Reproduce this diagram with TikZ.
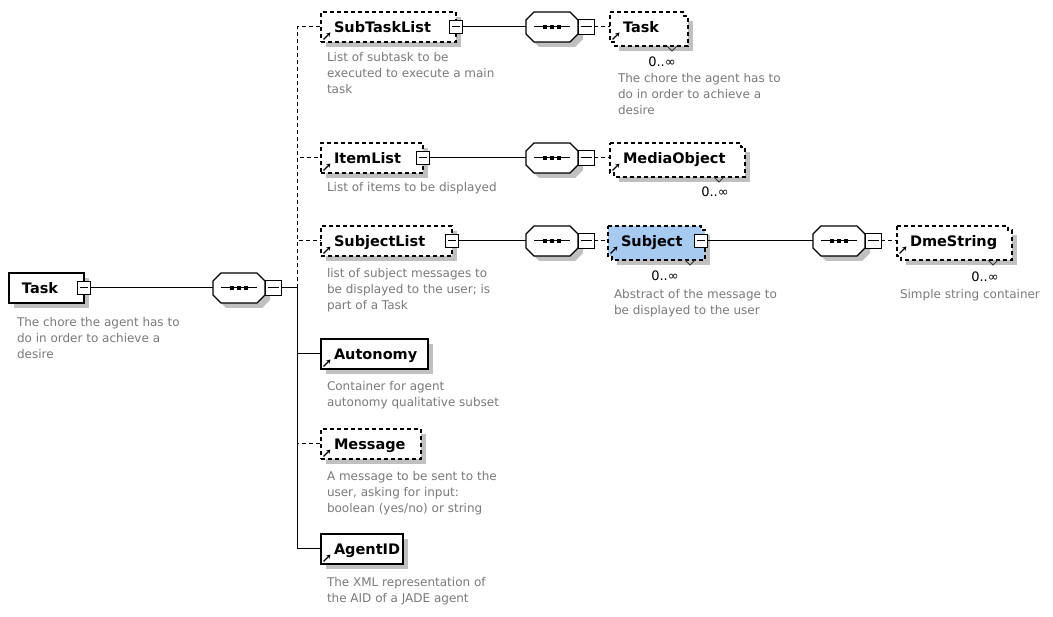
\documentclass[tikz,border=0pt]{standalone}
\usepackage{fontspec}
\setmainfont{DejaVu Sans}
\usetikzlibrary{calc,arrows.meta,shadows}

\definecolor{descgray}{HTML}{7A7A7A}
\definecolor{shadowgray}{HTML}{C0C0C0}
\definecolor{subjblue}{HTML}{A6CAF0}

% element caption: fixed-width box, name set after the reference-arrow gap
\newcommand\elemtext[2]{\makebox[#1][l]{\hspace{13pt}#2}}

\tikzset{
  conn/.style={line width=1pt},
  optline/.style={dash pattern=on 4pt off 3pt},
  shadowed/.style={general shadow={fill=shadowgray, shadow xshift=5pt, shadow yshift=-5pt}},
  namefont/.style={font=\fontsize{14.5}{16}\selectfont\bfseries, text height=10.5pt, text depth=0pt},
  elem/.style={rectangle, draw, line width=1.1pt, fill=white, inner sep=0pt, outer sep=0pt,
    minimum height=30pt, anchor=west, namefont, shadowed},
  backbox/.style={rectangle, fill=white, inner sep=0pt, outer sep=0pt,
    minimum height=30pt, anchor=west, shadowed},
  frontbox/.style={rectangle, fill=white, inner sep=0pt, outer sep=0pt,
    minimum height=30pt, anchor=west, namefont},
  stackline/.style={line width=1.1pt, optline, line join=miter},
  refarrow/.style={path picture={
    \draw[solid, line width=1.4pt, -{Stealth[length=4pt,width=4.5pt]}]
      ($(path picture bounding box.south west)+(2.5,-2.5)$) -- ++(7,-7);}},
  minusbox/.style={rectangle, draw, solid, fill=white, line width=1pt, inner sep=0pt, outer sep=0pt,
    minimum width=13pt, minimum height=13pt,
    path picture={\draw[solid, line width=1pt]
      ($(path picture bounding box.west)+(2.5,0)$) -- ($(path picture bounding box.east)+(-2.5,0)$);}},
  desc/.style={anchor=north west, align=left, inner sep=0pt, outer sep=0pt, text=descgray,
    font=\fontsize{12}{16}\selectfont},
  mult/.style={inner sep=0pt, font=\fontsize{13}{14}\selectfont},
  notch/.style={line width=0.9pt, draw=black!80},
  seqcomp/.pic={
    \fill[shadowgray, shift={(5,5)}] (-26,-7) -- (-18,-15) -- (18,-15) -- (26,-7)
      -- (26,7) -- (18,15) -- (-18,15) -- (-26,7) -- cycle;
    \draw[fill=white, line width=1.1pt] (-26,-7) -- (-18,-15) -- (18,-15) -- (26,-7)
      -- (26,7) -- (18,15) -- (-18,15) -- (-26,7) -- cycle;
    \draw[line width=1pt] (-18,0) -- (18,0);
    \fill (-9,-2) rectangle (-5,2);
    \fill (-2,-2) rectangle (2,2);
    \fill (5,-2) rectangle (9,2);
    \node[minusbox, minimum width=16pt, minimum height=15pt, anchor=west] (-m) at (26,0) {};
    \coordinate (-in) at (-26,0);
    \coordinate (-out) at (42,0);
  }
}

\begin{document}
\begin{tikzpicture}[x=1pt,y=-1pt]
\useasboundingbox (0,0) rectangle (1053,617);
\fill[white] (0,0) rectangle (1053,617);

% ---------- root element and its sequence ----------
\node[elem] (root) at (9,288) {\elemtext{75pt}{Task}};
\node[minusbox] (root-m) at (root.east) {};
\node[desc] (root-d) at (17,317) {The chore the agent has to\\do in order to achieve a\\desire};
\pic (c0) at (239,288) {seqcomp};
\coordinate (bus) at (297,288);

% ---------- children of the sequence ----------
\node[elem, optline, refarrow] (stl) at (321,27) {\elemtext{135pt}{SubTaskList}};
\node[desc] (stl-d) at (327,52) {List of subtask to be\\executed to execute a main\\task};

\node[elem, optline, refarrow] (il) at (321,158) {\elemtext{102pt}{ItemList}};
\node[desc] (il-d) at (327,182) {List of items to be displayed};

\node[elem, optline, refarrow] (sl) at (321,241) {\elemtext{131pt}{SubjectList}};
\node[desc] (sl-d) at (327,268) {list of subject messages to\\be displayed to the user; is\\part of a Task};

\node[elem, refarrow] (auto) at (321,354) {\elemtext{107pt}{Autonomy}};
\node[desc] (auto-d) at (327,381) {Container for agent\\autonomy qualitative subset};

\node[elem, optline, refarrow] (msg) at (321,444) {\elemtext{100pt}{Message}};
\node[desc] (msg-d) at (327,471) {A message to be sent to the\\user, asking for input:\\boolean (yes/no) or string};

\node[elem, refarrow] (aid) at (321,549) {\elemtext{82pt}{AgentID}};
\node[desc] (aid-d) at (327,577) {The XML representation of\\the AID of a JADE agent};

% connectors from the root
\draw[conn] (root-m.east) -- (c0-in);
\draw[conn] (c0-out) -- (bus);
\draw[conn, optline] (bus) |- (stl.west);
\draw[conn, optline] (bus) |- (il.west);
\draw[conn, optline] (bus) |- (sl.west);
\draw[conn] (bus) |- (aid.west);
\draw[conn] (bus) |- (auto.west);
\draw[conn, optline] (bus) |- (msg.west);

% ---------- SubTaskList -> Task (0..unbounded) ----------
\node[minusbox] (stl-m) at (stl.east) {};
\pic (c1) at (552,27) {seqcomp};
\node[backbox] (task-b) at (614,31) [minimum width=74pt] {};
\node[frontbox, refarrow] (task-f) at (610,27) {\elemtext{74pt}{Task}};
\draw[stackline] (task-f.north west) -- (task-f.north east) -- (task-f.north east |- task-b.north east)
  -- (task-b.north east) -- (task-b.south east) -- (task-b.south west)
  -- (task-b.south west |- task-f.south west) -- (task-f.south west) -- cycle;
\draw[notch] ($(task-b.south east)+(-21,0)$) -- ++(5,5) -- ++(5,-5);
\node[mult] (task-n) at (662,62) {0..∞};
\node[desc] (task-d) at (618,73) {The chore the agent has to\\do in order to achieve a\\desire};
\draw[conn] (stl-m.east) -- (c1-in);
\draw[conn, optline] (c1-out) -- (task-f.west);

% ---------- ItemList -> MediaObject (0..unbounded) ----------
\node[minusbox] (il-m) at (il.east) {};
\pic (c2) at (552,158) {seqcomp};
\node[backbox] (mo-b) at (614,162) [minimum width=131pt] {};
\node[frontbox, refarrow] (mo-f) at (610,158) {\elemtext{131pt}{MediaObject}};
\draw[stackline] (mo-f.north west) -- (mo-f.north east) -- (mo-f.north east |- mo-b.north east)
  -- (mo-b.north east) -- (mo-b.south east) -- (mo-b.south west)
  -- (mo-b.south west |- mo-f.south west) -- (mo-f.south west) -- cycle;
\draw[notch] ($(mo-b.south east)+(-31,0)$) -- ++(5,5) -- ++(5,-5);
\node[mult] (mo-n) at (715,192) {0..∞};
\draw[conn] (il-m.east) -- (c2-in);
\draw[conn, optline] (c2-out) -- (mo-f.west);

% ---------- SubjectList -> Subject (0..unbounded) -> DmeString ----------
\node[minusbox] (sl-m) at (sl.east) {};
\pic (c3) at (552,241) {seqcomp};
\node[backbox, fill=subjblue] (subj-b) at (612,245) [minimum width=93pt] {};
\node[frontbox, fill=subjblue, refarrow] (subj-f) at (608,241) {\elemtext{93pt}{Subject}};
\draw[stackline] (subj-f.north west) -- (subj-f.north east) -- (subj-f.north east |- subj-b.north east)
  -- (subj-b.north east) -- (subj-b.south east) -- (subj-b.south west)
  -- (subj-b.south west |- subj-f.south west) -- (subj-f.south west) -- cycle;
\draw[notch] ($(subj-b.south east)+(-20,0)$) -- ++(5,5) -- ++(5,-5);
\node[minusbox] (subj-m) at (subj-f.east) {};
\node[mult] (subj-n) at (665,276) {0..∞};
\node[desc] (subj-d) at (614,289) {Abstract of the message to\\be displayed to the user};
\draw[conn] (sl-m.east) -- (c3-in);
\draw[conn, optline] (c3-out) -- (subj-f.west);

\pic (c4) at (839,241) {seqcomp};
\node[backbox] (dme-b) at (901,245) [minimum width=111pt] {};
\node[frontbox, refarrow] (dme-f) at (897,241) {\elemtext{111pt}{DmeString}};
\draw[stackline] (dme-f.north west) -- (dme-f.north east) -- (dme-f.north east |- dme-b.north east)
  -- (dme-b.north east) -- (dme-b.south east) -- (dme-b.south west)
  -- (dme-b.south west |- dme-f.south west) -- (dme-f.south west) -- cycle;
\draw[notch] ($(dme-b.south east)+(-24,0)$) -- ++(5,5) -- ++(5,-5);
\node[mult] (dme-n) at (985,277) {0..∞};
\node[desc] (dme-d) at (900,289) {Simple string container};
\draw[conn] (subj-m.east) -- (c4-in);
\draw[conn, optline] (c4-out) -- (dme-f.west);
\end{tikzpicture}
\end{document}
